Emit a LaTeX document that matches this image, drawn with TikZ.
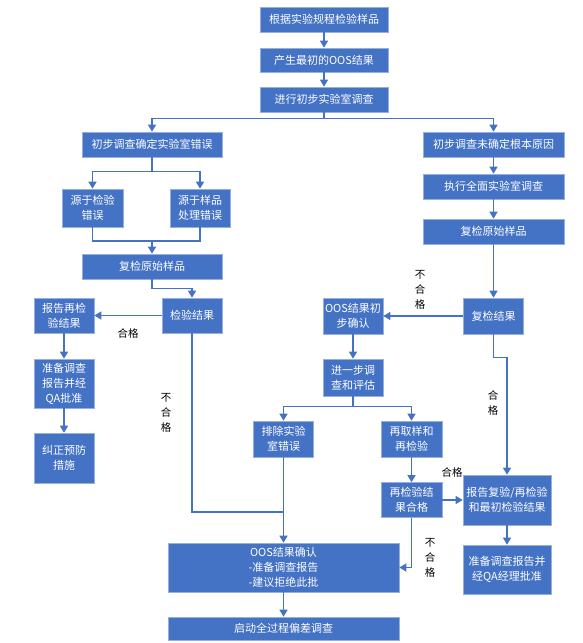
\documentclass[tikz,border=0pt]{standalone}
\usepackage{fontspec}
\newfontfamily\cjk{Noto Sans CJK SC}
\usetikzlibrary{arrows.meta}
\definecolor{boxblue}{RGB}{68,114,196}
\definecolor{edgeblue}{RGB}{150,175,220}
\begin{document}
\begin{tikzpicture}[x=1pt,y=-1pt,
  box/.style={fill=boxblue,draw=edgeblue,line width=.6pt,text=white,align=center,inner sep=1pt,font=\cjk\fontsize{11}{15}\selectfont},
  sz/.style 2 args={minimum width=#1pt,minimum height=#2pt},
  link/.style={draw=boxblue,line width=1.3pt},
  arr/.style={link,-{Triangle[width=8pt,length=7pt]}},
  lab/.style={align=center,inner sep=0pt,font=\cjk\fontsize{10.5}{15}\selectfont}]
\useasboundingbox (0,0) rectangle (582,643);
\node[box,sz={128}{25}] (b1) at (324,19.5) {根据实验规程检验样品};
\node[box,sz={128}{24}] (b2) at (324,60) {产生最初的OOS结果};
\node[box,sz={128}{25}] (b3) at (324,99.5) {进行初步实验室调查};
\node[box,sz={140}{25}] (L1) at (152,144.5) {初步调查确定实验室错误};
\node[box,sz={141}{25}] (R1) at (493.5,144.5) {初步调查未确定根本原因};
\node[box,sz={141}{25}] (R2) at (493.5,186.5) {执行全面实验室调查};
\node[box,sz={141}{25}] (R3) at (493.5,231.5) {复检原始样品};
\node[box,sz={61}{38}] (L2a) at (92.5,208) {源于检验\\错误};
\node[box,sz={60}{38}] (L2b) at (200,208) {源于样品\\处理错误};
\node[box,sz={140}{25}] (L3) at (152,266.5) {复检原始样品};
\node[box,sz={60}{35}] (L4) at (192,315.5) {检验结果};
\node[box,sz={60}{35}] (L5) at (64,315.5) {报告再检\\验结果};
\node[box,sz={60}{49}] (L6) at (64,383.5) {准备调查\\报告并经\\QA批准};
\node[box,sz={60}{50}] (L7) at (64,458) {纠正预防\\措施};
\node[box,sz={60}{36}] (M1) at (353,316) {OOS结果初\\步确认};
\node[box,sz={60}{36}] (R4) at (493.5,316) {复检结果};
\node[box,sz={60}{37}] (M2) at (353,377.5) {进一步调\\查和评估};
\node[box,sz={60}{36}] (M3) at (283.5,439) {排除实验\\室错误};
\node[box,sz={61}{36}] (M4) at (411.5,439) {再取样和\\再检验};
\node[box,sz={61}{35}] (M5) at (411.5,500) {再检验结\\果合格};
\node[box,sz={88}{50}] (R5) at (507,500) {报告复验/再检验\\和最初检验结果};
\node[box,sz={88}{49}] (R6) at (507,569.5) {准备调查报告并\\经QA经理批准};
\node[box,sz={231}{49}] (C1) at (283.5,567.5) {OOS结果确认\\-准备调查报告\\-建议拒绝此批};
\node[box,sz={231}{23}] (C2) at (283.5,628.5) {启动全过程偏差调查};
\foreach \a/\b in {b1/b2,b2/b3,R1/R2,R2/R3,R3/R4,L5/L6,L6/L7,M1/M2,M4/M5,R5/R6,C1/C2,L4/L5,R4/M1,M5/R5}
  \draw[arr] (\a) -- (\b);
\draw[arr] (b3.south) -- ++(0,6) -| (L1.north);
\draw[arr] (b3.south) -- ++(0,6) -| (R1.north);
\draw[arr] (L1.south) -- ++(0,14) -| (L2a.north);
\draw[arr] (L1.south) -- ++(0,14) -| (L2b.north);
\coordinate (j1) at (152,241);
\draw[link] (L2a.south) |- (j1) -| (L2b.south);
\draw[arr] (j1) -- (L3);
\draw[arr] (L3.south) -- ++(0,9) -| (L4.north);
\coordinate (j2) at (283.5,512);
\draw[link] (L4.south) |- (j2);
\draw[arr] (M3.south) -- (C1.north);
\draw[arr] (R4.south) -- ++(0,23) -| (R5.north);
\draw[arr] (M2.south) -- ++(0,10) -| (M3.north);
\draw[arr] (M2.south) -- ++(0,10) -| (M4.north);
\draw[arr] (M5.south) |- (C1.east);
\node[lab] (t1) at (128,333) {合格};
\node[lab] (t2) at (166,413) {不\\合\\格};
\node[lab] (t3) at (420,290) {不\\合\\格};
\node[lab] (t4) at (493,402.5) {合\\格};
\node[lab] (t5) at (452,472) {合格};
\node[lab] (t6) at (430,558) {不\\合\\格};
\end{tikzpicture}
\end{document}
